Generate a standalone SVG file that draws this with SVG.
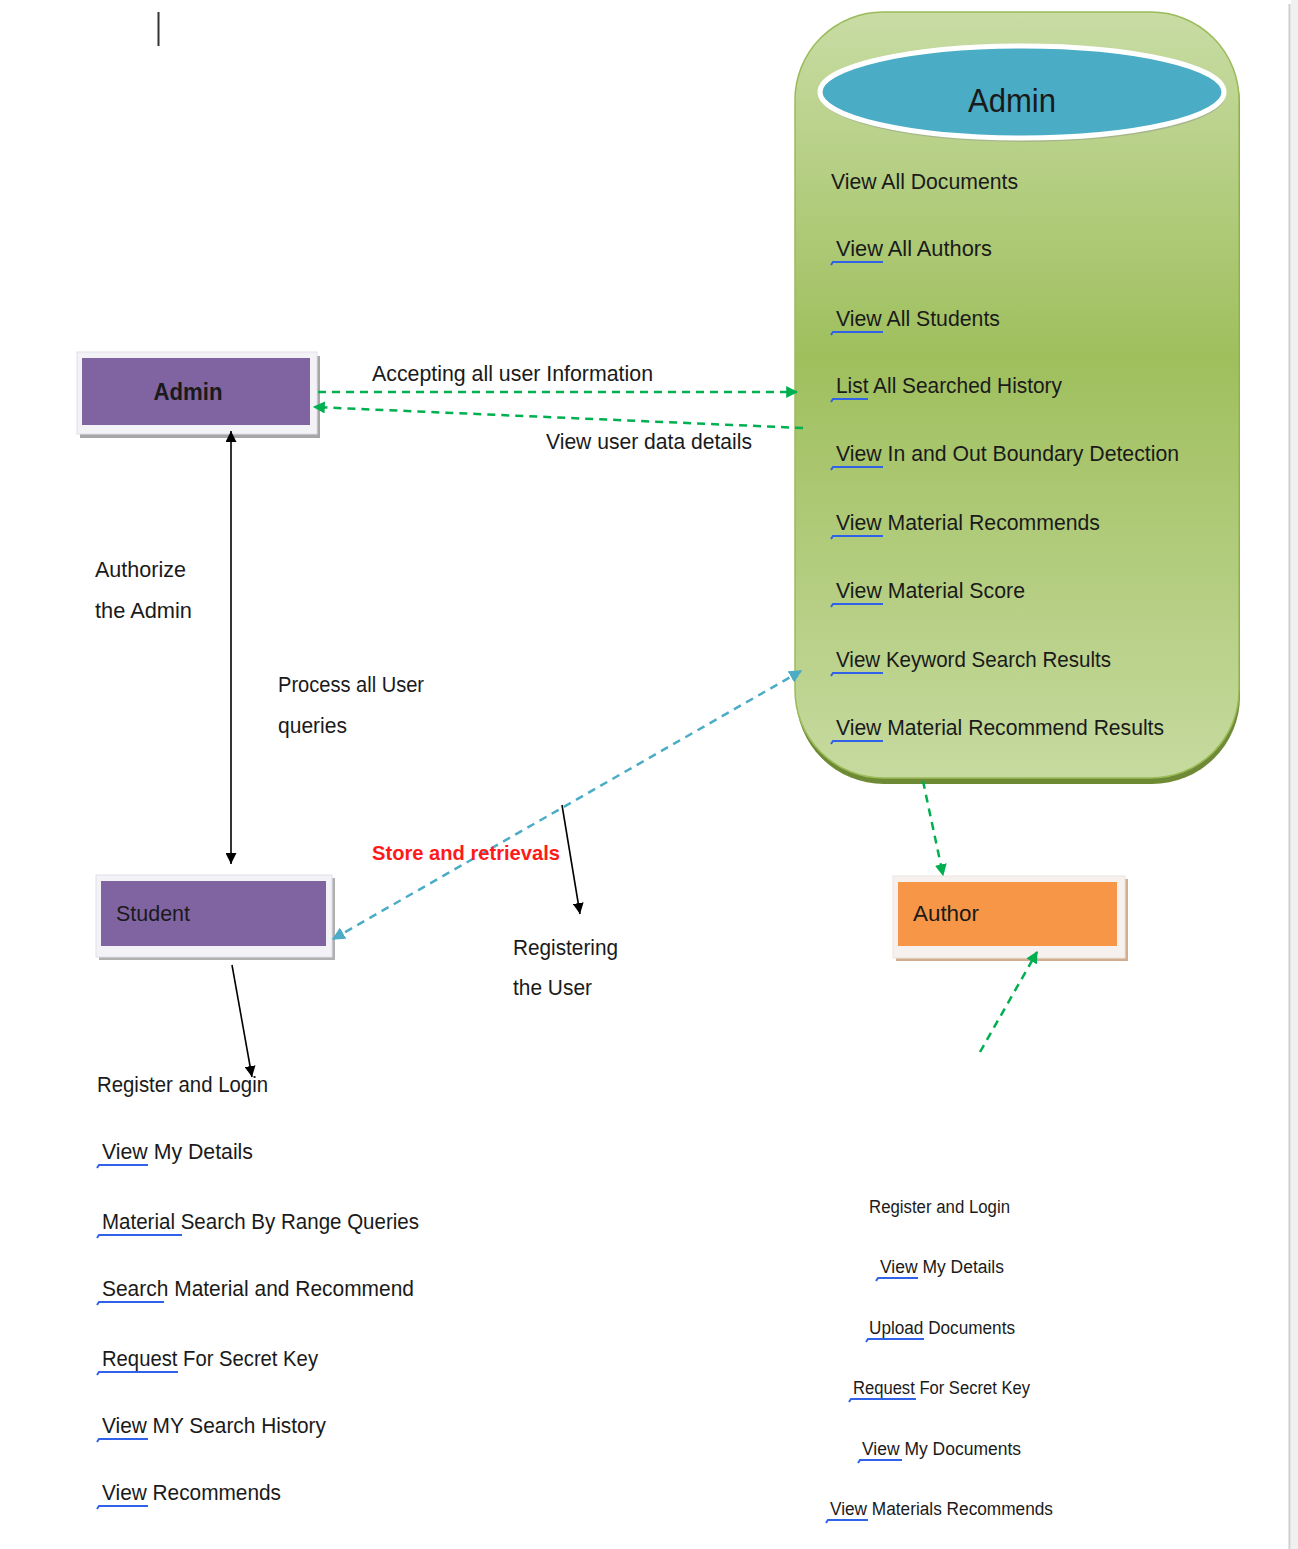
<svg xmlns="http://www.w3.org/2000/svg" width="1298" height="1549" viewBox="0 0 1298 1549">
<style>
text{font-family:"Liberation Sans",Arial,sans-serif;fill:#1a1a1a}
.t21{font-size:22.5px}
.t17{font-size:18px}
.ul{fill:none;stroke:#2f62e8;stroke-width:2}
.blk{stroke:#000;stroke-width:1.6;fill:none}
.grn{stroke:#00b050;stroke-width:2.5;fill:none;stroke-dasharray:8 6}
.cyn{stroke:#4bacc6;stroke-width:2.5;fill:none;stroke-dasharray:8 6}
</style>
<defs>
<linearGradient id="gg" x1="0" y1="0" x2="0" y2="1">
<stop offset="0" stop-color="#c8dca4"/>
<stop offset="0.45" stop-color="#9fbf5d"/>
<stop offset="1" stop-color="#c6da9f"/>
</linearGradient>
<marker id="ab" viewBox="0 0 10 10" refX="10" refY="5" markerWidth="11" markerHeight="11" markerUnits="userSpaceOnUse" orient="auto-start-reverse"><path d="M0,0 L10,5 L0,10 Z" fill="#000"/></marker>
<marker id="ag" viewBox="0 0 10 10" refX="9" refY="5" markerWidth="12" markerHeight="12" markerUnits="userSpaceOnUse" orient="auto-start-reverse"><path d="M0,0 L10,5 L0,10 Z" fill="#00b050"/></marker>
<marker id="ac" viewBox="0 0 10 10" refX="9" refY="5" markerWidth="13" markerHeight="13" markerUnits="userSpaceOnUse" orient="auto-start-reverse"><path d="M0,0 L10,5 L0,10 Z" fill="#4bacc6"/></marker>
</defs>
<rect x="0" y="0" width="1298" height="1549" fill="#fff"/>
<rect x="1291" y="0" width="7" height="1549" fill="#f0f0f0"/>
<line x1="1289.5" y1="4" x2="1289.5" y2="1549" stroke="#cdcdcd" stroke-width="2"/>
<line x1="158.5" y1="12" x2="158.5" y2="46" stroke="#333" stroke-width="2"/>

<g id="admin-store">
<rect x="796" y="16" width="444" height="768" rx="88" ry="88" fill="#6f8a35"/>
<rect x="795" y="12" width="444" height="766" rx="88" ry="88" fill="url(#gg)" stroke="#9bbb59" stroke-width="1.5"/>
<ellipse cx="1023" cy="96" rx="202" ry="46" fill="#9aa58a" opacity="0.6"/>
<ellipse cx="1022" cy="92" rx="202" ry="46" fill="#4bacc6" stroke="#fff" stroke-width="5"/>
<text x="1012" y="112" text-anchor="middle" style="font-size:34px" textLength="88" lengthAdjust="spacingAndGlyphs">Admin</text>
<text class="t21" x="831" y="189" textLength="187" lengthAdjust="spacingAndGlyphs">View All Documents</text>
<text class="t21" x="836" y="256" textLength="156" lengthAdjust="spacingAndGlyphs">View All Authors</text>
<path class="ul" d="M831,265 l2,-3 H883"/>
<text class="t21" x="836" y="326" textLength="164" lengthAdjust="spacingAndGlyphs">View All Students</text>
<path class="ul" d="M831,335 l2,-3 H883"/>
<text class="t21" x="836" y="393" textLength="226" lengthAdjust="spacingAndGlyphs">List All Searched History</text>
<path class="ul" d="M831,402 l2,-3 H868"/>
<text class="t21" x="836" y="461" textLength="343" lengthAdjust="spacingAndGlyphs">View In and Out Boundary Detection</text>
<path class="ul" d="M831,470 l2,-3 H883"/>
<text class="t21" x="836" y="530" textLength="264" lengthAdjust="spacingAndGlyphs">View Material Recommends</text>
<path class="ul" d="M831,539 l2,-3 H883"/>
<text class="t21" x="836" y="598" textLength="189" lengthAdjust="spacingAndGlyphs">View Material Score</text>
<path class="ul" d="M831,607 l2,-3 H883"/>
<text class="t21" x="836" y="667" textLength="275" lengthAdjust="spacingAndGlyphs">View Keyword Search Results</text>
<path class="ul" d="M831,676 l2,-3 H883"/>
<text class="t21" x="836" y="735" textLength="328" lengthAdjust="spacingAndGlyphs">View Material Recommend Results</text>
<path class="ul" d="M831,744 l2,-3 H883"/>
</g>

<g id="admin">
<rect x="80" y="356" width="240" height="82" fill="#a6a6a6"/>
<rect x="77" y="352" width="240" height="82" fill="#f3f2f6" stroke="#e2e0e8"/>
<rect x="82" y="358" width="228" height="67" fill="#8064a2"/>
<text x="188" y="400" text-anchor="middle" style="font-size:24px;font-weight:bold" textLength="69" lengthAdjust="spacingAndGlyphs">Admin</text>
</g>

<g id="student">
<rect x="99" y="878" width="236" height="82" fill="#b0b0b0"/>
<rect x="96" y="875" width="236" height="82" fill="#f3f2f6" stroke="#e2e0e8"/>
<rect x="101" y="881" width="225" height="65" fill="#8064a2"/>
<text class="t21" x="116" y="921" textLength="74" lengthAdjust="spacingAndGlyphs">Student</text>
</g>

<g id="author">
<rect x="896" y="879" width="232" height="82" fill="#d3ad90"/>
<rect x="893" y="876" width="232" height="82" fill="#f6f1ee" stroke="#ece4de"/>
<rect x="898" y="882" width="219" height="64" fill="#f79646"/>
<text class="t21" x="913" y="921" textLength="66" lengthAdjust="spacingAndGlyphs">Author</text>
</g>

<g id="connectors">
<line class="grn" x1="318" y1="392" x2="797" y2="392" marker-end="url(#ag)"/>
<line class="grn" x1="803" y1="428" x2="314" y2="407" marker-end="url(#ag)"/>
<line class="blk" x1="231" y1="431" x2="231" y2="864" marker-start="url(#ab)" marker-end="url(#ab)"/>
<line class="blk" x1="562" y1="805" x2="580" y2="914" marker-end="url(#ab)"/>
<line class="cyn" x1="333" y1="939" x2="801" y2="671" marker-start="url(#ac)" marker-end="url(#ac)"/>
<line class="blk" x1="232" y1="965" x2="252" y2="1077" marker-end="url(#ab)"/>
<line class="grn" x1="923" y1="781" x2="943" y2="875" marker-end="url(#ag)"/>
<line class="grn" x1="980" y1="1052" x2="1037" y2="952" marker-end="url(#ag)"/>
</g>

<g id="labels">
<text class="t21" x="372" y="381" textLength="281" lengthAdjust="spacingAndGlyphs">Accepting all user Information</text>
<text class="t21" x="546" y="449" textLength="206" lengthAdjust="spacingAndGlyphs">View user data details</text>
<text class="t21" x="95" y="577" textLength="91" lengthAdjust="spacingAndGlyphs">Authorize</text>
<text class="t21" x="95" y="618" textLength="97" lengthAdjust="spacingAndGlyphs">the Admin</text>
<text class="t21" x="278" y="692" textLength="146" lengthAdjust="spacingAndGlyphs">Process all User</text>
<text class="t21" x="278" y="733" textLength="69" lengthAdjust="spacingAndGlyphs">queries</text>
<text x="372" y="860" style="font-size:21px;font-weight:bold;fill:#ff1a1a" textLength="188" lengthAdjust="spacingAndGlyphs">Store and retrievals</text>
<text class="t21" x="513" y="955" textLength="105" lengthAdjust="spacingAndGlyphs">Registering</text>
<text class="t21" x="513" y="995" textLength="79" lengthAdjust="spacingAndGlyphs">the User</text>
</g>

<g id="student-functions">
<text class="t21" x="97" y="1092" textLength="171" lengthAdjust="spacingAndGlyphs">Register and Login</text>
<text class="t21" x="102" y="1159" textLength="151" lengthAdjust="spacingAndGlyphs">View My Details</text>
<path class="ul" d="M97,1168 l2,-3 H148"/>
<text class="t21" x="102" y="1229" textLength="317" lengthAdjust="spacingAndGlyphs">Material Search By Range Queries</text>
<path class="ul" d="M97,1238 l2,-3 H182"/>
<text class="t21" x="102" y="1296" textLength="312" lengthAdjust="spacingAndGlyphs">Search Material and Recommend</text>
<path class="ul" d="M97,1305 l2,-3 H164"/>
<text class="t21" x="102" y="1366" textLength="216" lengthAdjust="spacingAndGlyphs">Request For Secret Key</text>
<path class="ul" d="M97,1375 l2,-3 H178"/>
<text class="t21" x="102" y="1433" textLength="224" lengthAdjust="spacingAndGlyphs">View MY Search History</text>
<path class="ul" d="M97,1442 l2,-3 H148"/>
<text class="t21" x="102" y="1500" textLength="179" lengthAdjust="spacingAndGlyphs">View Recommends</text>
<path class="ul" d="M97,1509 l2,-3 H148"/>
</g>

<g id="author-functions">
<text class="t17" x="869" y="1213" textLength="141" lengthAdjust="spacingAndGlyphs">Register and Login</text>
<text class="t17" x="880" y="1273" textLength="124" lengthAdjust="spacingAndGlyphs">View My Details</text>
<path class="ul" d="M876,1281 l2,-3 H918"/>
<text class="t17" x="869" y="1334" textLength="146" lengthAdjust="spacingAndGlyphs">Upload Documents</text>
<path class="ul" d="M866,1342 l2,-3 H924"/>
<text class="t17" x="853" y="1394" textLength="177" lengthAdjust="spacingAndGlyphs">Request For Secret Key</text>
<path class="ul" d="M849,1402 l2,-3 H916"/>
<text class="t17" x="862" y="1455" textLength="159" lengthAdjust="spacingAndGlyphs">View My Documents</text>
<path class="ul" d="M858,1463 l2,-3 H902"/>
<text class="t17" x="830" y="1515" textLength="223" lengthAdjust="spacingAndGlyphs">View Materials Recommends</text>
<path class="ul" d="M826,1523 l2,-3 H868"/>
</g>
</svg>
